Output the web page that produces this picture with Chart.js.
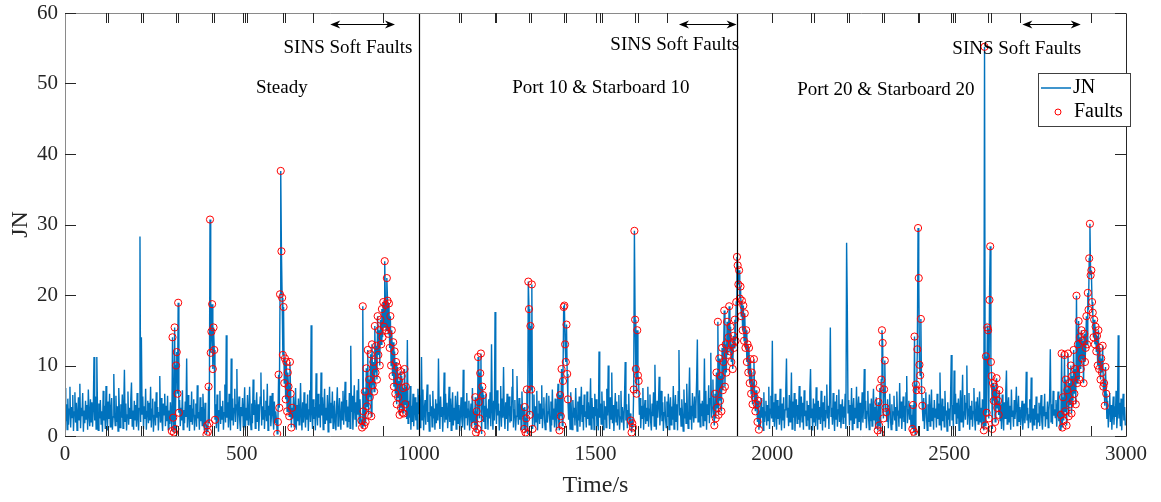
<!DOCTYPE html>
<html>
<head>
<meta charset="utf-8">
<script src="https://cdn.jsdelivr.net/npm/chart.js@4.4.1/dist/chart.umd.min.js"></script>
<style>
    html, body { margin: 0; padding: 0; background: #fff; }
    #wrap { width: 1161px; height: 502px; }
</style>
</head>
<body>
<div id="wrap"><canvas id="myChart" width="1161" height="502"></canvas></div>
<script>
// JN detection statistic, one row per 100 s, sampled every 2 s
const jnStep = 2;
const jnBlocks = [
    [6.8, 2.1, 4.5, 0.9, 5.3, 1.6, 3.8, 7.0, 1.2, 4.1, 2.6, 5.8, 0.7, 3.4, 6.2, 1.9, 4.7, 0.8, 3.1, 5.5, 2.3, 7.4, 1.1, 4.0, 2.8, 6.1, 0.6, 3.6, 1.8, 5.0, 2.4, 4.4, 0.9, 6.6, 3.0, 1.4, 5.2, 2.0, 4.8, 1.3, 3.9, 11.2, 2.2, 5.6, 1.0, 11.2, 3.3, 0.8, 4.6, 2.5],
    [5.1, 1.7, 3.5, 0.6, 6.4, 2.2, 4.3, 1.0, 7.1, 2.9, 0.8, 4.9, 2.4, 6.0, 1.3, 3.7, 5.4, 0.9, 2.7, 8.8, 3.2, 1.5, 5.7, 2.0, 4.2, 0.7, 6.8, 3.4, 1.2, 4.5, 2.6, 5.9, 1.1, 3.9, 9.4, 2.1, 4.6, 0.8, 3.0, 6.3, 1.6, 4.0, 2.5, 5.2, 7.6, 1.4, 3.6, 0.9, 5.0, 2.3],
    [4.4, 1.3, 6.1, 2.7, 0.8, 3.9, 28.3, 2.0, 14.0, 3.1, 5.6, 1.0, 4.2, 2.4, 6.7, 0.9, 3.5, 5.0, 1.8, 4.7, 2.2, 7.0, 1.2, 3.8, 5.3, 0.6, 2.9, 4.9, 1.5, 6.2, 2.6, 4.1, 0.8, 3.3, 8.5, 1.9, 5.4, 2.3, 0.7, 4.6, 3.0, 6.0, 1.4, 4.3, 2.1, 5.7, 0.9, 3.6, 1.7, 4.8],
    [2.6, 0.7, 14.0, 2.6, 0.5, 15.4, 1.0, 10.0, 11.9, 6.0, 18.9, 3.3, 5.1, 1.4, 4.0, 2.2, 6.5, 0.9, 3.7, 1.8, 4.9, 2.7, 11.0, 1.2, 5.8, 3.1, 0.7, 4.4, 2.0, 6.3, 1.6, 3.8, 5.2, 0.8, 2.9, 4.6, 1.3, 7.2, 2.5, 3.4, 0.9, 5.5, 2.1, 4.1, 1.5, 6.0, 3.0, 0.8, 4.7, 1.9],
    [0.2, 1.5, 0.6, 7.0, 1.8, 30.7, 11.8, 14.8, 18.7, 9.5, 15.4, 12.2, 2.3, 4.5, 1.1, 5.9, 2.8, 0.6, 3.6, 6.4, 1.7, 4.2, 2.4, 5.0, 0.9, 3.3, 7.3, 1.9, 14.3, 2.6, 4.8, 1.2, 6.0, 3.0, 0.8, 11.0, 2.2, 5.3, 1.5, 3.9, 6.7, 2.0, 4.4, 9.5, 1.0, 3.5, 5.6, 2.3, 0.7, 4.1],
    [2.8, 5.4, 1.3, 3.7, 6.9, 0.8, 4.0, 2.2, 5.8, 1.6, 3.2, 7.0, 2.5, 0.9, 4.6, 1.8, 8.0, 3.0, 5.1, 1.1, 3.9, 6.2, 2.0, 4.5, 0.7, 3.3, 5.5, 9.0, 1.5, 4.2, 2.4, 6.6, 1.0, 3.6, 5.0, 2.1, 7.4, 0.8, 4.3, 2.9, 5.7, 1.4, 3.1, 6.1, 2.6, 0.9, 4.9, 1.9, 3.5, 2.2],
    [0.3, 2.0, 8.7, 4.0, 20.1, 37.6, 26.2, 19.6, 11.5, 18.3, 7.5, 11.0, 5.2, 10.5, 3.5, 9.0, 7.0, 2.8, 10.5, 6.0, 1.2, 4.0, 2.5, 5.6, 1.3, 3.9, 6.8, 0.9, 4.4, 2.1, 5.3, 1.6, 3.4, 7.5, 2.7, 0.8, 4.8, 1.9, 6.2, 3.0, 1.2, 4.6, 2.3, 5.9, 0.7, 3.7, 6.5, 2.0, 15.7, 3.2],
    [1.0, 5.2, 2.4, 4.1, 0.8, 8.9, 3.3, 1.5, 6.0, 2.6, 4.5, 1.2, 9.0, 2.9, 5.5, 0.9, 3.8, 6.7, 1.7, 4.0, 2.2, 5.8, 0.6, 3.5, 7.0, 1.9, 4.7, 2.5, 6.3, 1.1, 3.6, 5.0, 2.0, 0.8, 4.3, 6.9, 1.4, 3.1, 5.4, 2.7, 0.9, 4.9, 2.3, 6.4, 1.6, 3.9, 7.7, 2.1, 5.1, 1.3],
    [4.2, 2.0, 6.1, 1.1, 12.8, 3.4, 5.7, 0.9, 3.9, 7.2, 2.4, 4.8, 1.3, 6.5, 3.0, 8.1, 1.8, 5.2, 2.6, 2.2, 1.2, 18.4, 3.5, 1.5, 6.3, 2.0, 9.6, 4.2, 12.2, 3.0, 8.0, 5.5, 11.6, 2.8, 13.0, 7.2, 10.5, 6.3, 15.6, 9.0, 12.8, 8.0, 17.0, 11.5, 15.0, 10.0, 16.5, 13.0, 18.0, 14.0],
    [19.0, 15.5, 24.8, 18.6, 15.0, 22.4, 19.2, 14.5, 18.8, 12.5, 17.0, 10.0, 15.0, 8.5, 13.3, 7.0, 12.0, 6.0, 10.5, 4.5, 9.8, 5.5, 7.8, 3.0, 9.2, 4.0, 8.5, 3.3, 6.8, 3.2, 9.5, 4.5, 7.0, 2.4, 13.6, 1.8, 5.0, 2.6, 7.1, 0.9, 4.3, 2.0, 6.0, 1.4, 3.6, 5.5, 2.2, 4.8, 1.0, 6.7],
    [3.1, 5.8, 1.2, 4.0, 11.2, 2.3, 6.6, 0.8, 3.7, 5.1, 1.6, 4.5, 7.3, 2.0, 3.4, 0.7, 5.9, 2.8, 4.2, 1.3, 6.4, 2.5, 3.9, 0.9, 5.2, 1.8, 4.6, 2.2, 11.0, 3.3, 1.0, 5.6, 2.7, 4.1, 0.6, 3.5, 9.0, 1.9, 6.0, 2.4, 4.7, 1.1, 3.2, 7.0, 2.0, 5.3, 0.8, 3.8, 6.2, 1.5],
    [4.0, 2.2, 5.7, 1.0, 3.6, 6.3, 1.8, 4.4, 0.7, 3.0, 5.5, 2.4, 1.2, 9.4, 3.3, 0.9, 4.9, 2.6, 6.1, 1.5, 3.8, 5.0, 0.8, 2.9, 4.6, 1.3, 6.8, 2.1, 3.5, 1.5, 5.5, 0.5, 3.5, 1.0, 11.2, 4.8, 2.5, 8.9, 11.7, 0.3, 7.0, 5.8, 2.0, 4.3, 1.1, 6.0, 2.7, 3.9, 0.9, 5.2],
    [2.5, 6.2, 1.4, 13.0, 3.8, 0.9, 5.0, 2.2, 17.6, 4.1, 1.7, 6.5, 2.9, 4.6, 0.8, 3.5, 7.1, 1.3, 5.3, 2.6, 9.8, 3.0, 1.0, 4.8, 2.4, 6.0, 0.7, 3.9, 5.6, 1.9, 4.2, 2.1, 6.9, 9.5, 1.2, 3.7, 5.1, 0.8, 2.8, 8.5, 3.3, 1.6, 5.4, 2.3, 4.5, 0.9, 6.3, 2.7, 4.0, 1.0],
    [4.1, 0.5, 2.5, 6.6, 0.3, 21.9, 18.0, 3.0, 15.6, 6.6, 21.5, 1.0, 3.6, 5.9, 1.4, 4.2, 2.0, 6.4, 0.8, 3.1, 5.0, 1.7, 4.6, 2.5, 7.2, 1.1, 3.8, 5.5, 2.2, 0.9, 4.4, 6.1, 1.9, 3.4, 5.7, 2.8, 0.7, 4.9, 1.5, 6.6, 2.4, 3.9, 1.2, 5.3, 2.9, 0.8, 4.5, 7.4, 2.0, 0.8],
    [5.8, 2.8, 9.5, 1.5, 7.8, 18.3, 18.5, 13.0, 10.5, 15.8, 8.8, 5.2, 2.3, 4.7, 1.0, 6.2, 3.3, 0.9, 5.1, 2.6, 4.0, 1.5, 6.8, 3.0, 0.7, 4.9, 2.2, 5.6, 1.3, 3.7, 7.0, 2.1, 4.4, 0.8, 5.9, 2.7, 3.5, 1.2, 6.3, 2.4, 4.8, 1.6, 3.2, 8.2, 1.0, 5.4, 2.5, 4.1, 0.9, 6.0],
    [2.8, 5.2, 1.4, 3.9, 0.8, 12.0, 2.6, 4.6, 1.7, 6.3, 3.1, 0.9, 5.0, 2.3, 4.2, 1.2, 6.7, 2.9, 10.0, 3.6, 1.0, 5.5, 2.4, 9.0, 1.8, 4.4, 0.7, 3.3, 6.1, 2.0, 4.9, 1.5, 3.7, 5.8, 0.9, 2.7, 6.4, 1.9, 4.1, 3.0, 0.8, 5.3, 10.5, 2.2, 4.5, 1.1, 3.6, 6.0, 1.6, 3.2],
    [2.2, 0.5, 1.8, 1.2, 6.6, 29.1, 16.5, 9.5, 6.0, 15.0, 8.6, 7.8, 3.0, 5.4, 1.1, 4.3, 2.5, 6.8, 0.9, 3.6, 5.1, 1.7, 4.0, 2.2, 7.0, 1.3, 3.8, 5.9, 2.0, 0.8, 4.6, 2.8, 6.2, 1.4, 10.1, 3.2, 0.9, 5.0, 2.6, 4.4, 8.4, 1.5, 3.5, 6.4, 2.1, 4.8, 0.7, 3.3, 5.6, 2.4],
    [1.2, 4.9, 2.7, 6.0, 0.9, 3.9, 5.5, 1.6, 4.2, 2.3, 7.1, 1.0, 3.4, 5.8, 2.1, 4.5, 0.8, 6.3, 12.2, 2.9, 4.0, 1.4, 5.2, 3.1, 0.7, 6.6, 2.5, 4.7, 1.8, 7.4, 3.3, 1.1, 5.0, 9.7, 2.4, 4.3, 0.9, 6.1, 3.6, 1.9, 5.6, 2.6, 4.1, 8.0, 13.7, 2.0, 3.8, 6.5, 1.3, 4.6],
    [2.8, 5.0, 1.5, 3.7, 11.0, 2.2, 6.4, 0.9, 4.5, 3.0, 7.2, 1.8, 5.3, 11.8, 2.6, 4.1, 8.0, 3.2, 1.5, 6.0, 2.5, 9.0, 4.0, 16.2, 3.0, 11.0, 5.0, 8.5, 3.5, 12.5, 6.5, 10.5, 17.8, 7.0, 13.0, 9.0, 16.2, 11.5, 14.0, 18.4, 12.0, 15.5, 10.5, 13.0, 9.5, 14.2, 12.5, 16.5, 13.5, 19.0],
    [25.4, 24.2, 21.5, 23.5, 19.5, 21.2, 17.0, 19.2, 15.0, 18.5, 13.5, 17.4, 12.5, 15.0, 10.5, 13.0, 9.0, 12.5, 7.5, 10.9, 6.0, 9.0, 4.5, 7.5, 10.9, 5.5, 3.5, 6.5, 4.5, 2.0, 5.0, 0.9, 3.6, 1.2, 5.4, 2.6, 4.1, 0.8, 6.2, 2.0, 3.4, 5.0, 1.5, 4.4, 2.2, 7.0, 1.0, 3.8, 5.7, 2.5],
    [13.5, 2.1, 4.8, 1.3, 6.0, 3.2, 0.9, 5.1, 2.4, 4.3, 1.6, 6.7, 3.0, 0.8, 4.6, 2.2, 5.5, 1.1, 3.7, 6.3, 11.0, 2.7, 4.0, 1.4, 5.8, 2.0, 3.5, 9.0, 1.0, 4.9, 2.6, 6.1, 0.7, 3.9, 5.2, 1.8, 4.4, 2.3, 7.1, 1.2, 3.4, 5.6, 2.0, 4.7, 0.9, 6.5, 2.8, 3.6, 1.5, 5.0],
    [2.2, 4.4, 1.0, 6.2, 9.5, 2.6, 3.9, 0.8, 5.3, 2.0, 4.6, 1.4, 6.9, 3.1, 0.9, 5.0, 2.4, 4.1, 1.7, 6.4, 3.3, 0.8, 4.8, 2.1, 5.7, 1.2, 3.6, 7.3, 2.5, 4.3, 1.0, 5.5, 15.4, 2.8, 4.0, 1.6, 6.1, 3.0, 0.7, 4.9, 2.3, 5.8, 1.3, 3.7, 6.6, 2.0, 4.5, 1.1, 3.4, 5.2],
    [1.8, 4.2, 2.6, 6.0, 1.0, 27.4, 18.2, 3.3, 5.1, 1.5, 4.4, 2.2, 6.8, 0.9, 3.6, 5.4, 1.7, 4.0, 2.5, 7.0, 1.2, 3.8, 5.6, 2.0, 4.7, 0.8, 3.1, 6.2, 1.9, 4.3, 9.5, 2.4, 5.0, 1.1, 3.5, 6.4, 2.7, 0.9, 4.6, 2.1, 5.3, 1.4, 3.9, 6.7, 2.3, 4.1, 1.0, 5.5, 2.8, 0.8],
    [4.8, 1.5, 6.8, 0.3, 8.0, 15.0, 13.2, 2.5, 6.6, 10.7, 4.0, 3.4, 2.0, 5.2, 1.1, 3.8, 6.0, 2.4, 0.9, 4.5, 1.6, 3.4, 5.7, 2.2, 4.1, 0.8, 6.3, 2.9, 3.6, 1.3, 7.5, 2.5, 4.9, 1.0, 3.2, 5.6, 2.0, 4.3, 0.7, 6.1, 8.5, 1.8, 3.7, 5.0, 2.3, 4.4, 1.2, 3.0, 1.0, 4.4],
    [0.6, 14.1, 0.2, 7.3, 6.5, 12.3, 29.5, 22.4, 10.1, 8.6, 16.6, 6.5, 4.3, 2.1, 5.4, 1.0, 3.7, 6.2, 2.6, 0.8, 4.5, 2.0, 5.9, 1.4, 3.3, 6.6, 2.2, 4.0, 0.9, 5.1, 2.7, 3.9, 1.2, 6.0, 2.4, 4.6, 1.6, 9.0, 3.0, 0.8, 5.3, 2.1, 4.2, 1.3, 6.4, 2.9, 3.6, 0.7, 4.8, 2.3],
    [3.9, 1.4, 5.6, 11.5, 2.2, 4.4, 0.9, 9.3, 3.1, 6.0, 1.8, 4.7, 2.5, 5.3, 0.8, 3.6, 6.5, 2.0, 4.1, 8.7, 1.2, 3.4, 5.8, 2.3, 4.6, 10.0, 1.6, 3.8, 6.1, 0.9, 4.3, 2.4, 5.0, 1.3, 3.5, 6.8, 2.6, 0.8, 4.9, 2.1, 5.5, 1.7, 3.2, 6.3, 2.0, 4.0, 1.1, 5.2, 2.8, 0.8],
    [55.2, 1.5, 11.3, 3.3, 15.4, 15.0, 2.5, 19.3, 26.9, 10.5, 8.5, 1.0, 7.5, 5.0, 7.0, 2.0, 6.0, 8.2, 4.0, 5.0, 3.0, 6.5, 2.2, 4.5, 1.0, 5.9, 3.1, 0.8, 4.8, 2.5, 6.2, 9.3, 1.7, 3.9, 5.5, 2.0, 4.3, 0.9, 6.6, 2.8, 3.6, 1.3, 5.1, 2.4, 4.0, 7.0, 1.5, 3.3, 5.7, 2.1],
    [4.1, 1.5, 3.3, 5.0, 0.9, 2.7, 4.6, 1.8, 3.5, 9.1, 2.2, 4.0, 1.1, 3.0, 5.2, 1.9, 8.3, 2.5, 0.8, 3.9, 1.6, 4.4, 2.3, 5.6, 1.0, 3.2, 2.0, 4.7, 1.4, 3.7, 5.8, 2.1, 0.9, 4.2, 2.8, 6.0, 1.3, 3.4, 2.4, 4.9, 1.2, 3.6, 5.3, 12.3, 2.0, 4.5, 1.7, 6.4, 2.9, 3.8],
    [2.6, 5.1, 1.3, 4.0, 6.3, 2.1, 3.6, 0.9, 3.0, 11.7, 1.2, 5.5, 2.2, 11.5, 3.5, 8.0, 1.5, 6.5, 11.7, 2.8, 7.5, 4.5, 10.0, 3.2, 8.5, 5.0, 12.2, 6.0, 9.5, 4.5, 19.9, 7.5, 13.0, 16.3, 8.0, 14.0, 9.5, 15.0, 11.0, 13.5, 7.5, 14.5, 10.5, 12.5, 17.0, 13.0, 20.3, 17.9, 25.2, 30.1],
    [22.8, 23.5, 19.0, 17.5, 14.0, 16.5, 13.0, 15.5, 12.0, 14.2, 10.0, 15.0, 9.5, 12.5, 8.0, 11.0, 9.0, 12.8, 7.0, 7.5, 4.3, 9.8, 6.0, 2.4, 5.0, 1.2, 3.8, 6.1, 2.0, 4.4, 0.9, 3.5, 5.6, 1.6, 4.2, 2.7, 6.4, 1.1, 3.3, 14.3, 2.5, 4.7, 1.4, 5.3, 0.8, 3.9, 6.0, 2.2, 4.1, 1.5]
];

// time windows (s) flagged as faults
const faultWindows = [[302, 322], [400, 424], [600, 642], [838, 964], [1158, 1182], [1298, 1322],
    [1398, 1422], [1600, 1622], [1836, 1962], [2298, 2322], [2396, 2424], [2598, 2642], [2816, 2944]];

// manoeuvre boundaries and names
const phaseBounds = [1000, 1900];
const phaseNames = ['Steady', 'Port 10 & Starboard 10', 'Port 20 & Starboard 20'];

// SINS soft fault spans (s)
const softFaultSpans = [[750, 933], [1736, 1899], [2707, 2872]];

// unlabelled tick marks on the top and bottom edges
const edgeTicks = [115, 121, 215, 221, 315, 320, 415, 421, 503, 509, 515, 615, 621, 701, 900,
    1115, 1121, 1215, 1220, 1312, 1318, 1410, 1417, 1502, 1512, 1518, 1612, 1620, 1701,
    2000, 2110, 2117, 2210, 2216, 2311, 2317, 2411, 2416, 2504, 2511, 2517, 2611, 2618, 2699, 2900];

const jnPoints = [];
jnBlocks.forEach((block, b) => {
    block.forEach((v, j) => jnPoints.push({ x: b * 100 + j * jnStep, y: v }));
});
const faultPoints = jnPoints.filter(p => faultWindows.some(([a, z]) => p.x >= a && p.x <= z));

const serif = 'Liberation Serif, Times New Roman, serif';

const overlay = {
    id: 'overlay',
    afterDatasetsDraw(chart) {
        const { ctx, chartArea: a, scales: { x, y } } = chart;
        ctx.save();

        // phase boundary lines
        ctx.strokeStyle = '#000';
        ctx.lineWidth = 1.2;
        phaseBounds.forEach(t => {
            const px = Math.round(x.getPixelForValue(t)) + 0.5;
            ctx.beginPath(); ctx.moveTo(px, a.top); ctx.lineTo(px, a.bottom); ctx.stroke();
        });

        // frame
        ctx.lineWidth = 1;
        ctx.strokeStyle = '#8a8a8a';
        const L = Math.round(a.left) + 0.5, R = Math.round(a.right) + 0.5;
        const T = Math.round(a.top) + 0.5, B = Math.round(a.bottom) + 0.5;
        ctx.beginPath();
        ctx.moveTo(R, T); ctx.lineTo(L, T); ctx.lineTo(L, B); ctx.lineTo(R, B);
        ctx.stroke();
        ctx.strokeStyle = '#262626';
        ctx.beginPath(); ctx.moveTo(R, T); ctx.lineTo(R, B); ctx.stroke();

        // inward tick marks
        ctx.strokeStyle = '#262626';
        edgeTicks.forEach(t => {
            const px = Math.round(x.getPixelForValue(t)) + 0.5;
            ctx.beginPath();
            ctx.moveTo(px, a.top); ctx.lineTo(px, a.top + 10);
            ctx.moveTo(px, a.bottom); ctx.lineTo(px, a.bottom - 10);
            ctx.stroke();
        });
        y.ticks.forEach(tk => {
            const py = Math.round(y.getPixelForValue(tk.value)) + 0.5;
            ctx.beginPath();
            ctx.moveTo(a.left, py); ctx.lineTo(a.left + 11, py);
            ctx.moveTo(a.right, py); ctx.lineTo(a.right - 11, py);
            ctx.stroke();
        });

        // soft fault arrows
        ctx.strokeStyle = '#000';
        ctx.fillStyle = '#000';
        ctx.lineWidth = 1;
        const ay = Math.round(y.getPixelForValue(58.4)) + 0.5;
        const head = (tip, dir) => {
            ctx.beginPath();
            ctx.moveTo(tip, ay);
            ctx.lineTo(tip - dir * 10, ay - 4);
            ctx.lineTo(tip - dir * 7, ay);
            ctx.lineTo(tip - dir * 10, ay + 4);
            ctx.closePath();
            ctx.fill();
        };
        softFaultSpans.forEach(([s, e]) => {
            const x1 = x.getPixelForValue(s), x2 = x.getPixelForValue(e);
            ctx.beginPath(); ctx.moveTo(x1 + 4, ay); ctx.lineTo(x2 - 4, ay); ctx.stroke();
            head(x1, -1);
            head(x2, 1);
        });

        // texts
        ctx.font = '19px ' + serif;
        ctx.textAlign = 'center';
        ctx.textBaseline = 'middle';
        const sinsPos = [[800, 55.1], [1724, 55.5], [2691, 54.9]];
        sinsPos.forEach(([t, v]) => ctx.fillText('SINS Soft Faults', x.getPixelForValue(t), y.getPixelForValue(v)));
        const phasePos = [[613, 49.4], [1515, 49.4], [2321, 49.1]];
        phaseNames.forEach((name, i) => {
            ctx.fillText(name, x.getPixelForValue(phasePos[i][0]), y.getPixelForValue(phasePos[i][1]));
        });
        ctx.restore();
    },
    afterDraw(chart) {
        const { ctx } = chart;
        const jn = chart.data.datasets[1], fl = chart.data.datasets[0];
        ctx.save();
        ctx.fillStyle = '#fff';
        ctx.fillRect(1038, 73, 92, 53);
        ctx.strokeStyle = '#404040';
        ctx.lineWidth = 1;
        ctx.strokeRect(1038.5, 73.5, 92, 53);
        ctx.strokeStyle = jn.borderColor;
        ctx.lineWidth = 1.5;
        ctx.beginPath(); ctx.moveTo(1041, 88); ctx.lineTo(1071, 88); ctx.stroke();
        ctx.strokeStyle = fl.pointBorderColor;
        ctx.lineWidth = 1;
        ctx.beginPath(); ctx.arc(1058, 112, 3, 0, Math.PI * 2); ctx.stroke();
        ctx.fillStyle = '#000';
        ctx.font = '20px ' + serif;
        ctx.textAlign = 'left';
        ctx.textBaseline = 'middle';
        ctx.fillText(jn.label, 1073, 88);
        ctx.fillText(fl.label, 1074, 112);
        ctx.restore();
    }
};

const ctx = document.getElementById('myChart').getContext('2d');
const myChart = new Chart(ctx, {
    type: 'line',
    data: {
        datasets: [{
            label: 'Faults',
            type: 'scatter',
            data: faultPoints,
            showLine: false,
            pointStyle: 'circle',
            pointRadius: 3.6,
            pointBorderWidth: 1,
            pointBorderColor: '#ff0000',
            pointBackgroundColor: 'rgba(0,0,0,0)',
            order: 0
        }, {
            label: 'JN',
            data: jnPoints,
            borderColor: '#0072BD',
            borderWidth: 1.4,
            pointRadius: 0,
            tension: 0,
            fill: false,
            order: 1
        }]
    },
    options: {
        responsive: false,
        animation: false,
        layout: { padding: { top: 13, right: 35, left: 0, bottom: 0 } },
        plugins: { legend: { display: false }, tooltip: { enabled: false } },
        scales: {
            x: {
                type: 'linear',
                min: 0,
                max: 3000,
                border: { display: false },
                grid: { display: false, drawTicks: false },
                ticks: { stepSize: 500, maxRotation: 0, padding: 6, color: '#262626', font: { family: serif, size: 21 },
                    callback: v => String(v) },
                title: { display: true, text: 'Time/s', color: '#262626', padding: { top: 2, bottom: 2 }, font: { family: serif, size: 24 } },
                afterFit(scale) { scale.height = 66; }
            },
            y: {
                min: 0,
                max: 60,
                border: { display: false },
                grid: { display: false, drawTicks: false },
                ticks: { stepSize: 10, padding: 7, color: '#262626', font: { family: serif, size: 21, lineHeight: 0.4 } },
                title: { display: true, text: 'JN', color: '#262626', padding: { top: 6, bottom: 0 }, font: { family: serif, size: 24 } },
                afterFit(scale) { scale.width = 65; }
            }
        }
    },
    plugins: [overlay]
});
</script>
</body>
</html>
